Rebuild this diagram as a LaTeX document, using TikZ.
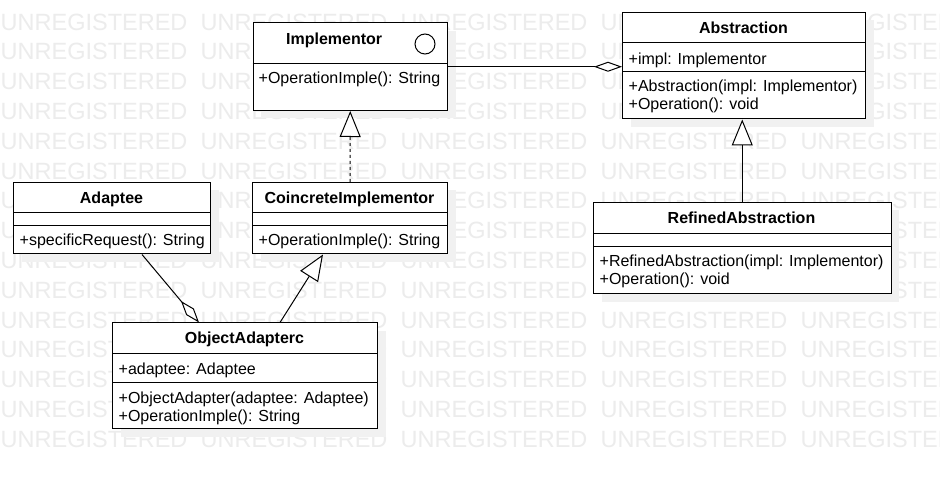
\documentclass[tikz,border=0pt]{standalone}
\usepackage{fontspec}
\setmainfont{Liberation Sans}
\usetikzlibrary{arrows.meta,calc,shadows}
\definecolor{wm}{RGB}{236,236,236}
\definecolor{shadowc}{RGB}{241,241,241}
\begin{document}
\begin{tikzpicture}[x=1bp,y=-1bp,
  box/.style={draw=black,line width=1bp,fill=white,inner sep=0pt,anchor=north west,
    drop shadow={shadow xshift=8bp,shadow yshift=-8bp,fill=shadowc,opacity=1}},
  ttl/.style={font=\fontsize{16bp}{19bp}\selectfont\bfseries,inner sep=0pt,anchor=base},
  txt/.style={font=\fontsize{16bp}{19bp}\selectfont,inner sep=0pt,anchor=base west},
  sepline/.style={line width=1bp},
  conn/.style={line width=1bp},
  dia/.style={-{Diamond[length=28bp,width=10bp,fill=white,line width=1bp]}},
  tri/.style={-{Triangle[length=26bp,width=21bp,fill=white,line width=1bp]}},
  dashline/.style={dash pattern=on 3bp off 3bp},
  wmk/.style={font=\fontsize{23.5bp}{28bp}\selectfont,text=wm,inner sep=0pt,anchor=base west}]
\fill[white] (0,0) rectangle (940,478);
\useasboundingbox (0,0) rectangle (940,478);
% watermark
\foreach \r in {0,...,14}{
  \foreach \c in {0,...,4}{
    \node[wmk] (wm-\r-\c) at ({200*\c+0.5},{30.1+29.8*\r}) {UNREGISTERED};
  }
}
% Implementor
\node[box,minimum width=194.5bp,minimum height=87.5bp] (impl) at (252.5,22.5) {};
\draw[sepline] (252.5,63.5) -- (447,63.5);
\node[ttl] (impl-t) at (334.2,45) {Implementor};
\node[draw=black,line width=1bp,circle,minimum size=20bp,inner sep=0pt] (impl-icon) at (425,44) {};
\node[txt] (impl-m1) at (258.5,84) {+OperationImple(): String};
% Abstraction
\node[box,minimum width=243bp,minimum height=106.5bp] (abs) at (622,12) {};
\draw[sepline] (622,43) -- (865,43);
\draw[sepline] (622,72) -- (865,72);
\node[ttl] (abs-t) at (743.5,33.3) {Abstraction};
\node[txt] (abs-a1) at (628.5,64.5) {+impl: Implementor};
\node[txt] (abs-m1) at (628.5,91.5) {+Abstraction(impl: Implementor)};
\node[txt] (abs-m2) at (628.5,110) {+Operation(): void};
% RefinedAbstraction
\node[box,minimum width=297.5bp,minimum height=91bp] (ref) at (593,202) {};
\draw[sepline] (593,234) -- (890.5,234);
\draw[sepline] (593,247) -- (890.5,247);
\node[ttl] (ref-t) at (741.5,223.5) {RefinedAbstraction};
\node[txt] (ref-m1) at (599.5,266.5) {+RefinedAbstraction(impl: Implementor)};
\node[txt] (ref-m2) at (599.5,285) {+Operation(): void};
% Adaptee
\node[box,minimum width=197bp,minimum height=71.5bp] (adaptee) at (13,182) {};
\draw[sepline] (13,213) -- (210,213);
\draw[sepline] (13,226) -- (210,226);
\node[ttl] (adaptee-t) at (111.5,203.5) {Adaptee};
\node[txt] (adaptee-m1) at (19.5,245.5) {+specificRequest(): String};
% CoincreteImplementor
\node[box,minimum width=195bp,minimum height=71.5bp] (coin) at (252,182) {};
\draw[sepline] (252,213) -- (447,213);
\draw[sepline] (252,226) -- (447,226);
\node[ttl] (coin-t) at (349.5,203.5) {CoincreteImplementor};
\node[txt] (coin-m1) at (258.5,245.5) {+OperationImple(): String};
% ObjectAdapterc
\node[box,minimum width=265bp,minimum height=105.5bp] (oa) at (112,322.5) {};
\draw[sepline] (112,353) -- (377,353);
\draw[sepline] (112,382) -- (377,382);
\node[ttl] (oa-t) at (244.5,343.3) {ObjectAdapterc};
\node[txt] (oa-a1) at (118.5,374.2) {+adaptee: Adaptee};
\node[txt] (oa-m1) at (118.5,403.2) {+ObjectAdapter(adaptee: Adaptee)};
\node[txt] (oa-m2) at (118.5,421.3) {+OperationImple(): String};
% connectors
\draw[conn,dia] (impl.east) -- (impl.east -| abs.west);
\draw[conn,dashline,tri] (coin.north) -- (impl.south);
\draw[conn,tri] (ref.north) -- (ref.north |- abs.south);
\draw[conn,dia] ($(adaptee.south west)+(129,0)$) -- ($(oa.north west)+(87,0)$);
\draw[conn,tri] ($(oa.north west)+(168,0)$) -- ($(coin.south west)+(71,0)$);
\end{tikzpicture}
\end{document}
